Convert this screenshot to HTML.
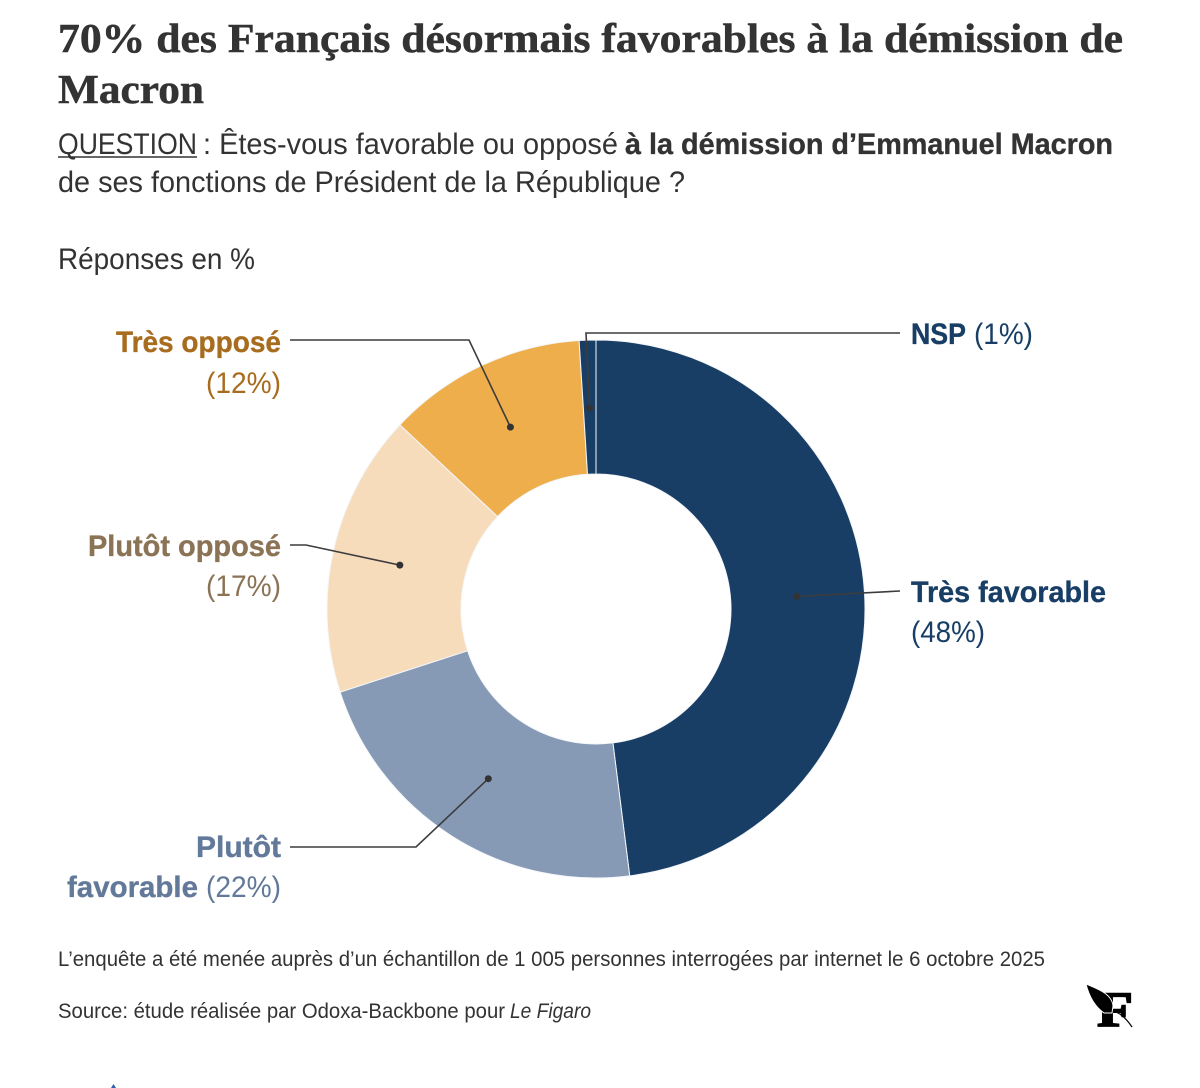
<!DOCTYPE html>
<html lang="fr">
<head>
<meta charset="utf-8">
<title>70% des Français désormais favorables à la démission de Macron</title>
<style>
html,body{margin:0;padding:0;background:#fff;width:1200px;height:1088px;overflow:hidden}
svg{display:block}
text{font-family:"Liberation Sans",sans-serif;fill:#333;font-size:29.5px}
.title{font-family:"Liberation Serif",serif;font-weight:700;font-size:41px;fill:#333;stroke:#333;stroke-width:.5px}
.b{font-weight:700;stroke:currentColor;stroke-width:.35px}
.note{font-size:21.5px}
.leader{fill:none;stroke:#3c3c3c;stroke-width:1.6}
</style>
</head>
<body>
<svg id="chart" width="1200" height="1088" viewBox="0 0 1200 1088" xmlns="http://www.w3.org/2000/svg">
  <text class="title" x="58" y="52" textLength="1065" lengthAdjust="spacingAndGlyphs">70% des Français désormais favorables à la démission de</text>
  <text class="title" x="58" y="103" textLength="146" lengthAdjust="spacingAndGlyphs">Macron</text>

  <text x="58" y="154" textLength="139" lengthAdjust="spacingAndGlyphs">QUESTION</text>
  <line x1="58" y1="157" x2="197" y2="157" stroke="#333" stroke-width="1.5"/>
  <text x="203" y="154" textLength="415" lengthAdjust="spacingAndGlyphs">: Êtes-vous favorable ou opposé</text>
  <text class="b" x="625" y="154" textLength="488" lengthAdjust="spacingAndGlyphs" style="color:#333">à la démission d’Emmanuel Macron</text>
  <text x="58" y="192" textLength="627" lengthAdjust="spacingAndGlyphs">de ses fonctions de Président de la République ?</text>
  <text x="58" y="269" textLength="197" lengthAdjust="spacingAndGlyphs">Réponses en %</text>

  <g id="slices"></g>

  <g id="leaders">
    <polyline class="leader" data-rest="900,591"/>
    <polyline class="leader" data-rest="416,847 290,847"/>
    <polyline class="leader" data-rest="306,545 290,545"/>
    <polyline class="leader" data-rest="469,340 290,340"/>
    <polyline class="leader" data-rest="586,333 900,333"/>
  </g>
  <g id="dots"></g>

  <g>
    <text class="b" x="911" y="602" textLength="195" lengthAdjust="spacingAndGlyphs" style="fill:#183e66;color:#183e66">Très favorable</text>
    <text class="pct" data-i="0" x="911" y="642" textLength="74" lengthAdjust="spacingAndGlyphs" style="fill:#183e66">(48%)</text>
  </g>
  <g>
    <text class="b" x="196" y="857" textLength="85" lengthAdjust="spacingAndGlyphs" style="fill:#62799a;color:#62799a">Plutôt</text>
    <text class="b" x="67" y="897" textLength="131" lengthAdjust="spacingAndGlyphs" style="fill:#62799a;color:#62799a">favorable</text>
    <text class="pct" data-i="1" x="206" y="897" textLength="75" lengthAdjust="spacingAndGlyphs" style="fill:#62799a">(22%)</text>
  </g>
  <g>
    <text class="b" x="88" y="556" textLength="193" lengthAdjust="spacingAndGlyphs" style="fill:#8b7355;color:#8b7355">Plutôt opposé</text>
    <text class="pct" data-i="2" x="206" y="596" textLength="75" lengthAdjust="spacingAndGlyphs" style="fill:#8b7355">(17%)</text>
  </g>
  <g>
    <text class="b" x="116" y="352" textLength="165" lengthAdjust="spacingAndGlyphs" style="fill:#a86c1f;color:#a86c1f">Très opposé</text>
    <text class="pct" data-i="3" x="206" y="393" textLength="75" lengthAdjust="spacingAndGlyphs" style="fill:#a86c1f">(12%)</text>
  </g>
  <g>
    <text class="b" x="911" y="344" textLength="55" lengthAdjust="spacingAndGlyphs" style="fill:#183e66;color:#183e66">NSP</text>
    <text class="pct" data-i="4" x="974" y="344" textLength="59" lengthAdjust="spacingAndGlyphs" style="fill:#183e66">(1%)</text>
  </g>

  <text class="note" x="58" y="966" textLength="987" lengthAdjust="spacingAndGlyphs">L’enquête a été menée auprès d’un échantillon de 1 005 personnes interrogées par internet le 6 octobre 2025</text>
  <text class="note" x="58" y="1018" textLength="447" lengthAdjust="spacingAndGlyphs">Source: étude réalisée par Odoxa-Backbone pour</text>
  <text class="note" x="510" y="1018" textLength="81" lengthAdjust="spacingAndGlyphs" font-style="italic">Le Figaro</text>

  <g>
    <text x="1097" y="1026" textLength="36" lengthAdjust="spacingAndGlyphs" style="font-family:'Liberation Serif',serif;font-weight:700;font-size:50px;fill:#000;stroke:#000;stroke-width:1.6px">F</text>
    <path d="M1086 984 C1098 989 1112 994 1113 1006 L1112 1013 L1104 1013 C1094 1006 1089 996 1086 984Z" fill="#000" stroke="#fff" stroke-width="1"/>
    <path d="M1116 1012 C1123 1015 1128 1021 1132 1027" fill="none" stroke="#000" stroke-width="1.2"/>
  </g>
  <path d="M111 1088 L113.500 1084 L116 1088Z" fill="#2f5fa8"/>
</svg>
<script>
const categories = ["Très favorable", "Plutôt favorable", "Plutôt opposé", "Très opposé", "NSP"];
const values = [48, 22, 17, 12, 1];
const colors = ["#183e66", "#8699b5", "#f7dcbb", "#eeae4b", "#183e66"];

const NS = "http://www.w3.org/2000/svg";
const cx = 596, cy = 609, rOuter = 269, rInner = 135, rDot = 201;
const total = values.reduce(function (a, b) { return a + b; }, 0);
function angleOf(v) { return v / total * Math.PI * 2; }
function pt(r, a) { return [cx + r * Math.sin(a), cy - r * Math.cos(a)]; }

const slicesG = document.getElementById("slices");
const dotsG = document.getElementById("dots");
const leaders = document.querySelectorAll("#leaders polyline");
let acc = 0;
values.forEach(function (v, i) {
  const a0 = angleOf(acc), a1 = angleOf(acc + v), mid = (a0 + a1) / 2;
  const large = a1 - a0 > Math.PI ? 1 : 0;
  const p0 = pt(rOuter, a0), p1 = pt(rOuter, a1), p2 = pt(rInner, a1), p3 = pt(rInner, a0);
  const path = document.createElementNS(NS, "path");
  path.setAttribute("d", "M" + p0 + "A" + rOuter + " " + rOuter + " 0 " + large + " 1 " + p1 +
    "L" + p2 + "A" + rInner + " " + rInner + " 0 " + large + " 0 " + p3 + "Z");
  path.setAttribute("fill", colors[i]);
  path.setAttribute("stroke", "#f4f6f9");
  path.setAttribute("stroke-width", "1");
  
  
  path.setAttribute("aria-label", categories[i] + " " + v + "%");
  slicesG.appendChild(path);

  const d = pt(rDot, mid);
  const dot = document.createElementNS(NS, "circle");
  dot.setAttribute("cx", d[0]);
  dot.setAttribute("cy", d[1]);
  dot.setAttribute("r", "3.5");
  dot.setAttribute("fill", "#333");
  
  
  dotsG.appendChild(dot);

  leaders[i].setAttribute("points", d[0] + "," + d[1] + " " + leaders[i].getAttribute("data-rest"));
  acc += v;
});
document.querySelectorAll(".pct").forEach(function (el) {
  el.textContent = "(" + values[+el.getAttribute("data-i")] + "%)";
});
</script>
</body>
</html>
